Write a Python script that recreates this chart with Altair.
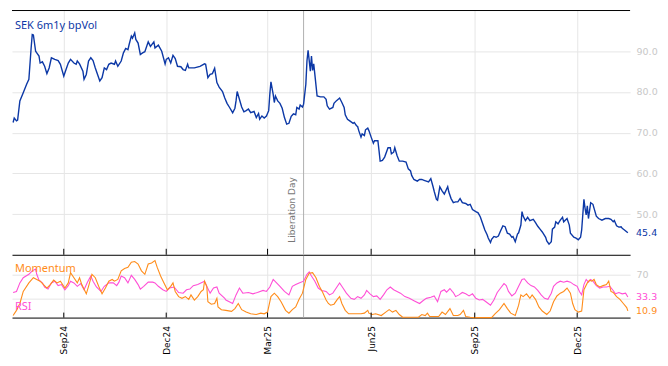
import altair as alt
import pandas as pd

# ---------------- data ----------------
START = "2024-07-17"          # day 0 of the day offsets below
X_START = "2024-07-17"
X_END = "2026-01-17"
TICK_DATES = ["2024-09-01", "2024-12-01", "2025-03-01", "2025-06-01", "2025-09-01", "2025-12-01"]
EVENT_DATE = "2025-04-02"
EVENT_LABEL = "Liberation Day"
TITLE = "SEK 6m1y bpVol"
MOM_NAME = "Momentum"
RSI_NAME = "RSI"
VOL_TICKS = [50, 60, 70, 80, 90]
OSC_GRID = [30, 70]
OSC_LABEL = 70

VOL_DAYS = [1, 2, 4, 5, 7, 10, 13, 15, 17, 18, 19, 21, 22, 24, 25, 27, 29, 31, 33, 35, 38, 41, 43, 46, 48, 50,
            52, 55, 57, 58, 60, 63, 64, 66, 68, 70, 72, 74, 76, 78, 80, 82, 84, 86, 88, 91, 92, 94, 97, 99, 101,
            103, 104, 106, 107, 109, 110, 112, 114, 116, 118, 121, 123, 126, 127, 130, 133, 136, 137, 139, 141,
            143, 145, 147, 150, 152, 154, 156, 157, 162, 167, 171, 172, 174, 176, 178, 180, 182, 184, 187, 189,
            191, 193, 196, 198, 199, 200, 202, 204, 206, 208, 210, 212, 215, 217, 219, 220, 222, 224, 226, 228,
            229, 230, 232, 233, 234, 236, 238, 240, 242, 244, 246, 248, 250, 252, 253, 255, 256, 258, 259, 261,
            262, 263, 265, 266, 267, 268, 269, 271, 274, 277, 279, 280, 282, 285, 286, 288, 291, 293, 295, 296,
            298, 300, 303, 304, 306, 307, 308, 310, 311, 313, 314, 316, 317, 319, 321, 322, 325, 326, 327, 329,
            331, 334, 336, 337, 339, 340, 342, 344, 347, 350, 352, 354, 355, 357, 360, 362, 364, 366, 368, 370,
            372, 374, 375, 377, 378, 380, 382, 384, 387, 388, 390, 392, 394, 396, 398, 400, 403, 405, 407, 409,
            412, 414, 416, 418, 420, 422, 423, 425, 426, 428, 430, 432, 434, 436, 438, 440, 442, 444, 445, 447,
            449, 450, 452, 453, 454, 456, 458, 460, 463, 465, 467, 469, 471, 474, 475, 477, 479, 480, 482, 483,
            485, 487, 489, 490, 493, 495, 496, 499, 501, 503, 505, 506, 508, 509, 510, 511, 512, 514, 516, 517,
            519, 521, 524, 527, 530, 532, 534, 535, 537, 539, 541, 542, 544, 547]
VOL = [72.5, 73.6, 72.9, 73.1, 77.8, 79.8, 81.9, 83.1, 90.8, 94.1, 94.0, 90.0, 89.6, 88.8, 87.1, 87.4, 86.3, 84.5,
       85.9, 88.4, 88.0, 87.7, 86.8, 83.9, 85.5, 87.1, 88.0, 87.1, 86.8, 87.6, 86.9, 85.1, 83.1, 84.3, 87.6, 88.4,
       87.7, 85.9, 84.3, 82.7, 83.5, 85.9, 85.5, 86.8, 87.1, 86.8, 87.6, 86.3, 87.6, 89.6, 90.7, 90.4, 91.6, 93.7,
       93.2, 94.5, 92.9, 92.0, 89.2, 89.6, 89.9, 92.3, 91.2, 92.3, 90.8, 91.5, 90.0, 86.9, 88.0, 88.4, 87.1, 89.0,
       88.2, 86.3, 86.2, 85.5, 85.3, 86.8, 85.9, 85.9, 86.3, 86.9, 86.8, 83.5, 84.3, 84.5, 85.8, 82.3, 81.2, 80.1,
       78.5, 77.2, 76.3, 74.9, 76.0, 77.8, 80.1, 78.2, 76.3, 75.1, 75.4, 75.8, 74.9, 75.2, 73.7, 74.7, 73.3, 74.1,
       73.6, 74.1, 75.4, 79.4, 82.5, 79.4, 77.4, 79.0, 77.8, 77.2, 76.0, 73.7, 72.1, 72.3, 74.0, 74.6, 74.4, 76.2,
       75.8, 76.8, 76.3, 77.0, 81.9, 87.6, 90.2, 85.1, 88.8, 85.3, 86.9, 84.3, 79.0, 78.8, 78.8, 78.2, 76.6, 75.8,
       76.2, 77.2, 77.8, 78.5, 77.4, 76.2, 74.4, 73.3, 72.9, 72.3, 72.5, 71.7, 71.5, 70.5, 68.9, 69.7, 69.3, 70.7,
       71.1, 70.5, 68.9, 67.4, 68.0, 68.0, 65.6, 63.0, 63.2, 64.0, 66.3, 66.3, 64.8, 65.2, 66.3, 64.4, 63.0, 63.0,
       62.8, 61.1, 60.6, 59.5, 58.5, 58.1, 58.5, 58.5, 58.3, 58.1, 57.9, 58.7, 56.7, 55.6, 53.6, 53.4, 56.7, 55.7,
       54.9, 56.7, 55.4, 53.8, 52.8, 53.0, 53.0, 53.8, 52.8, 52.6, 52.2, 52.4, 51.1, 50.6, 50.3, 49.3, 47.7, 46.1,
       44.9, 44.1, 43.0, 43.8, 44.5, 44.3, 44.6, 45.9, 47.1, 46.9, 45.3, 45.1, 44.3, 44.5, 43.2, 45.1, 45.4, 47.3,
       50.6, 49.5, 48.4, 49.2, 48.4, 48.7, 47.9, 47.0, 46.3, 45.6, 44.3, 43.4, 42.6, 43.2, 46.3, 46.8, 48.1, 47.6,
       48.5, 49.2, 48.1, 48.9, 47.3, 45.3, 44.3, 44.1, 43.7, 44.3, 46.1, 53.6, 51.4, 49.8, 52.0, 48.9, 52.8, 52.4,
       51.4, 49.5, 48.9, 48.5, 48.9, 48.9, 48.7, 48.1, 48.4, 47.1, 46.8, 46.9, 46.5, 46.1, 45.4]

RSI_DAYS = [1, 4, 7, 10, 15, 18, 21, 22, 24, 27, 29, 32, 35, 38, 41, 44, 47, 50, 52, 55, 58, 61, 64, 67, 70, 72,
            75, 79, 82, 86, 90, 93, 95, 97, 100, 103, 106, 109, 112, 114, 117, 121, 125, 127, 130, 134, 137, 140,
            144, 148, 152, 155, 158, 161, 165, 171, 173, 176, 179, 182, 184, 189, 190, 196, 199, 202, 205, 210,
            214, 218, 223, 226, 229, 232, 235, 238, 242, 246, 249, 252, 255, 259, 262, 264, 266, 269, 272, 275,
            279, 282, 285, 288, 291, 294, 297, 301, 304, 307, 310, 313, 315, 318, 321, 324, 327, 330, 333, 336,
            339, 342, 345, 349, 353, 357, 362, 365, 368, 372, 375, 378, 381, 384, 386, 389, 391, 392, 394, 397,
            400, 403, 406, 409, 412, 415, 418, 421, 425, 428, 431, 434, 437, 439, 441, 444, 447, 450, 453, 455,
            458, 461, 464, 467, 470, 473, 476, 479, 481, 484, 487, 490, 493, 496, 499, 502, 504, 506, 508, 510,
            512, 514, 516, 519, 522, 525, 528, 531, 534, 536, 539, 542, 545, 547]
RSI = [40.6, 42.3, 56.1, 64.5, 70.0, 75.6, 78.4, 70.0, 60.6, 56.1, 49.5, 46.1, 56.1, 58.9, 51.7, 53.4, 45.0, 51.7,
       58.9, 56.1, 50.6, 55.0, 45.0, 57.3, 67.3, 58.9, 49.5, 42.3, 50.6, 56.1, 56.1, 51.7, 57.3, 67.3, 64.5, 56.1,
       68.4, 61.7, 53.4, 46.1, 50.6, 57.3, 57.3, 56.1, 50.6, 45.0, 42.3, 47.8, 49.5, 40.6, 39.5, 45.0, 46.1, 51.7,
       53.4, 58.9, 50.6, 39.5, 47.8, 49.5, 39.5, 31.1, 28.4, 22.8, 36.7, 47.8, 39.5, 40.6, 38.4, 40.6, 43.9, 42.3,
       49.5, 61.7, 56.1, 50.6, 42.3, 36.7, 50.6, 53.4, 56.1, 58.9, 70.0, 73.9, 67.3, 58.9, 47.8, 43.9, 42.3, 36.7,
       39.5, 47.8, 56.1, 47.8, 39.5, 31.1, 29.5, 33.9, 31.1, 36.7, 43.9, 38.4, 33.9, 35.0, 29.5, 36.7, 45.0, 49.5,
       45.0, 42.3, 39.5, 33.9, 31.1, 27.3, 22.8, 27.3, 31.1, 32.8, 35.0, 25.6, 42.3, 45.0, 41.0, 47.0, 42.3, 40.6,
       33.9, 36.7, 40.6, 38.4, 35.0, 38.4, 31.1, 28.4, 29.5, 25.6, 20.0, 28.4, 40.6, 47.8, 55.0, 51.7, 42.3, 35.0,
       39.5, 50.6, 61.7, 62.8, 56.1, 51.7, 49.5, 43.9, 36.7, 31.1, 29.5, 39.5, 50.6, 56.1, 58.9, 57.3, 58.9, 57.3,
       53.4, 50.6, 42.3, 36.7, 53.4, 61.7, 57.3, 61.7, 58.9, 51.7, 47.8, 49.5, 49.5, 50.6, 43.9, 38.4, 40.6, 38.4,
       39.5, 33.3]

MOM_DAYS = [1, 4, 7, 10, 15, 19, 22, 25, 28, 31, 34, 37, 40, 43, 47, 50, 52, 55, 58, 60, 62, 66, 68, 71, 74, 77,
            80, 83, 86, 89, 91, 94, 97, 100, 103, 106, 109, 112, 115, 118, 121, 124, 127, 129, 132, 135, 138, 141,
            143, 145, 148, 151, 154, 157, 159, 162, 165, 168, 170, 171, 173, 174, 177, 180, 182, 183, 186, 190,
            195, 198, 201, 204, 208, 212, 217, 221, 224, 227, 230, 233, 236, 239, 243, 246, 249, 252, 255, 258,
            261, 264, 267, 270, 273, 276, 279, 281, 283, 286, 289, 291, 293, 296, 299, 304, 310, 313, 316, 317,
            320, 323, 328, 332, 335, 338, 341, 344, 347, 351, 357, 361, 364, 367, 369, 371, 375, 379, 382, 385,
            389, 392, 396, 398, 401, 403, 407, 410, 418, 426, 429, 433, 437, 440, 443, 447, 450, 452, 454, 457,
            460, 462, 465, 468, 471, 475, 478, 481, 484, 487, 490, 493, 496, 498, 500, 503, 506, 508, 511, 513,
            515, 517, 519, 522, 525, 528, 530, 532, 534, 537, 540, 543, 546, 547]
MOM = [3.3, 11.7, 22.8, 42.3, 56.1, 64.5, 61.7, 58.9, 53.4, 47.8, 53.4, 60.6, 56.1, 58.9, 47.8, 56.1, 72.8, 64.5,
       56.1, 64.5, 53.4, 38.4, 50.6, 70.0, 64.5, 50.6, 38.4, 47.8, 58.9, 61.7, 58.9, 61.7, 75.6, 79.5, 81.2, 89.5,
       90.6, 86.7, 75.6, 70.0, 86.7, 88.4, 92.2, 81.2, 67.3, 56.1, 45.0, 50.6, 56.1, 42.3, 33.9, 31.1, 33.9, 29.5,
       36.7, 28.4, 33.9, 42.3, 45.0, 58.9, 50.6, 25.6, 21.7, 22.8, 31.1, 17.2, 12.8, 11.7, 10.0, 14.5, 22.8, 12.8,
       8.9, 6.1, 5.0, 7.2, 6.1, 8.9, 33.9, 39.5, 33.9, 25.6, 11.7, 7.2, 12.8, 17.2, 29.5, 39.5, 61.7, 71.7, 72.8,
       64.5, 50.6, 40.6, 28.4, 22.8, 20.0, 21.7, 29.5, 33.9, 22.8, 11.7, 6.1, 6.1, 6.1, 7.2, 11.7, 7.2, 5.0, 6.1,
       3.3, 8.9, 12.8, 8.9, 11.7, 5.0, 0.5, 0.5, 0.5, 0.5, 5.0, 3.3, 7.2, 1.7, 1.7, 1.7, 8.9, 5.0, 14.5, 3.3, 3.3,
       5.0, 11.7, 1.7, 0.5, 0.0, 0.0, 0.0, 6.1, 12.8, 22.8, 14.5, 7.2, 3.3, 20.0, 36.7, 33.9, 38.4, 31.1, 36.7,
       29.5, 17.2, 10.6, 5.0, 10.6, 25.6, 35.0, 39.5, 42.3, 47.8, 39.5, 22.8, 12.8, 8.9, 10.6, 45.0, 56.1, 60.6,
       58.9, 61.7, 53.4, 49.5, 51.7, 53.4, 58.9, 42.3, 40.6, 33.9, 29.5, 22.8, 16.1, 10.9]

# ---------------- styling ----------------
BLUE = "#0c38a6"
PINK = "#ff4fd6"
ORANGE = "#ff8c1a"
GRID = "#e6e6e6"
LABEL_GREY = "#c8c8c8"
W, H_TOP, H_BOT = 620, 245, 62
NUM_FONT = "DejaVu Sans"
TXT_FONT = "Noto Sans"

start = pd.Timestamp(START)


def iso(ts):
    return ts.strftime("%Y-%m-%dT00:00:00")


def series(days, vals):
    return pd.DataFrame({"date": [iso(start + pd.Timedelta(days=int(d))) for d in days], "value": vals})


def to_dt(s):
    t = pd.Timestamp(s)
    return alt.DateTime(year=t.year, month=t.month, date=t.day)


vol_df = series(VOL_DAYS, VOL)
rsi_df = series(RSI_DAYS, RSI)
mom_df = series(MOM_DAYS, MOM)
tick_df = pd.DataFrame({"date": [iso(pd.Timestamp(d)) for d in TICK_DATES]})
event_df = pd.DataFrame({"date": [iso(pd.Timestamp(EVENT_DATE))], "label": [EVENT_LABEL]})
one = pd.DataFrame({"k": [0]})

xscale = alt.Scale(domain=[to_dt(X_START), to_dt(X_END)], nice=False)
tick_vals = [to_dt(d) for d in TICK_DATES]

# ---------------- axes ----------------
top_x_axis = alt.Axis(values=tick_vals, labels=False, ticks=False, domain=True, domainColor="#000000",
                      domainWidth=1, grid=True, gridColor=GRID, title=None)
bot_x_axis = alt.Axis(values=tick_vals, format="%b%y", labelAngle=270, labelAlign="right", labelBaseline="middle",
                      labelColor="#000000", labelFont=NUM_FONT, labelFontSize=9, labelPadding=8, ticks=False,
                      domain=True, domainColor="#000000", domainWidth=1, grid=True, gridColor=GRID, title=None)
vol_scale = alt.Scale(domain=[40, 100], nice=False, zero=False)
vol_axis = alt.Axis(orient="right", values=VOL_TICKS, format=".1f", labelColor=LABEL_GREY, labelFont=NUM_FONT,
                    labelFontSize=9.5, labelPadding=6, domain=False, ticks=False, grid=True, gridColor=GRID,
                    title=None)
osc_scale = alt.Scale(domain=[0, 100], nice=False)
osc_axis = alt.Axis(orient="right", values=OSC_GRID, labelExpr=f"datum.value == {OSC_LABEL} ? '{OSC_LABEL}' : ''",
                    labelColor=LABEL_GREY, labelFont=NUM_FONT, labelFontSize=9.5, labelPadding=6, domain=False,
                    ticks=False, grid=True, gridColor=GRID, title=None)


def tx(axis):
    return alt.X("date:T", scale=xscale, axis=axis, title=None)


# ---------------- top panel ----------------
vol_line = alt.Chart(vol_df).mark_line(color=BLUE, strokeWidth=1.4).encode(
    x=tx(top_x_axis), y=alt.Y("value:Q", scale=vol_scale, axis=vol_axis, title=None))
event_rule_top = alt.Chart(event_df).mark_rule(color="#b0b0b0", strokeWidth=1).encode(x=tx(top_x_axis))
event_text = alt.Chart(event_df).mark_text(angle=270, align="left", baseline="middle", dy=-12,
                                           color="#777777", font=NUM_FONT, fontSize=9).encode(
    x=tx(top_x_axis), y=alt.value(H_TOP - 12), text="label:N")
top_border = alt.Chart(one).mark_rule(color="#000000", strokeWidth=1).encode(y=alt.value(0))
top_ticks = alt.Chart(tick_df).mark_rule(color="#000000", strokeWidth=1).encode(
    x=tx(top_x_axis), y=alt.value(H_TOP - 6), y2=alt.value(H_TOP))
vol_last = alt.Chart(vol_df.tail(1)).mark_text(align="left", baseline="middle", color=BLUE, font=NUM_FONT,
                                               fontSize=9.5).encode(
    x=alt.value(W + 6), y=alt.Y("value:Q", scale=vol_scale, axis=vol_axis, title=None),
    text=alt.Text("value:Q", format=".1f"))
title = alt.Chart(one).mark_text(align="left", baseline="middle", color=BLUE, font=TXT_FONT, fontSize=11).encode(
    x=alt.value(3), y=alt.value(16), text=alt.value(TITLE))

top = alt.layer(event_rule_top, vol_line, event_text, top_border, top_ticks, vol_last, title).properties(
    width=W, height=H_TOP)

# ---------------- bottom panel ----------------
rsi_line = alt.Chart(rsi_df).mark_line(color=PINK, strokeWidth=1.1).encode(
    x=tx(bot_x_axis), y=alt.Y("value:Q", scale=osc_scale, axis=osc_axis, title=None))
mom_line = alt.Chart(mom_df).mark_line(color=ORANGE, strokeWidth=1.1).encode(
    x=tx(bot_x_axis), y=alt.Y("value:Q", scale=osc_scale, axis=osc_axis, title=None))
event_rule_bot = alt.Chart(event_df).mark_rule(color="#b0b0b0", strokeWidth=1).encode(x=tx(bot_x_axis))
bot_ticks = alt.Chart(tick_df).mark_rule(color="#000000", strokeWidth=1).encode(
    x=tx(bot_x_axis), y=alt.value(H_BOT - 5), y2=alt.value(H_BOT))
rsi_last = alt.Chart(rsi_df.tail(1)).mark_text(align="left", baseline="middle", color=PINK, font=NUM_FONT,
                                               fontSize=9.5).encode(
    x=alt.value(W + 6), y=alt.Y("value:Q", scale=osc_scale, axis=osc_axis, title=None),
    text=alt.Text("value:Q", format=".1f"))
mom_last = alt.Chart(mom_df.tail(1)).mark_text(align="left", baseline="middle", color=ORANGE, font=NUM_FONT,
                                               fontSize=9.5).encode(
    x=alt.value(W + 6), y=alt.Y("value:Q", scale=osc_scale, axis=osc_axis, title=None),
    text=alt.Text("value:Q", format=".1f"))
mom_name = alt.Chart(one).mark_text(align="left", baseline="middle", color=ORANGE, font=TXT_FONT,
                                    fontSize=11).encode(x=alt.value(3), y=alt.value(13), text=alt.value(MOM_NAME))
rsi_name = alt.Chart(one).mark_text(align="left", baseline="middle", color=PINK, font=TXT_FONT,
                                    fontSize=11).encode(x=alt.value(3), y=alt.value(51), text=alt.value(RSI_NAME))

bottom = alt.layer(event_rule_bot, rsi_line, mom_line, bot_ticks, rsi_last, mom_last, mom_name,
                   rsi_name).properties(width=W, height=H_BOT)

chart = alt.vconcat(top, bottom, spacing=-2).properties(
    padding={"left": 2, "top": 1, "right": 2, "bottom": 2}
).configure_view(stroke=None)

chart.save("out.html", embed_options={"renderer": "svg", "actions": False})
